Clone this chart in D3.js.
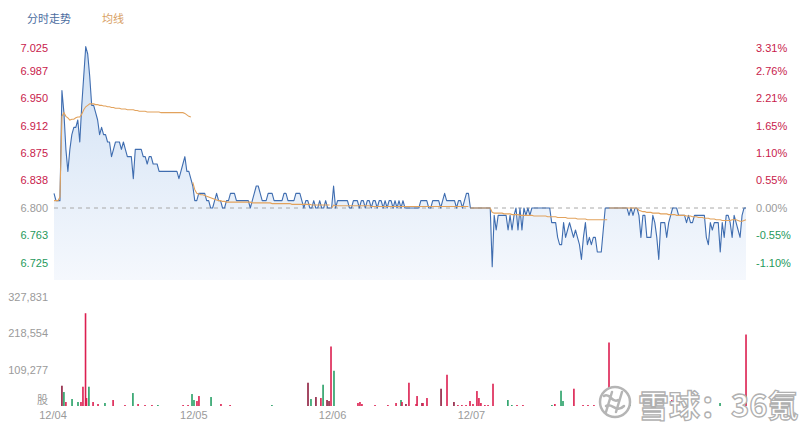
<!DOCTYPE html>
<html><head><meta charset="utf-8">
<script src="https://cdn.jsdelivr.net/npm/d3@7"></script>
<style>body{margin:0;background:#fff}svg{display:block}</style>
</head><body>
<svg id="c" width="800" height="424"></svg>
<script>
const dayLabels = ["12/04","12/05","12/06","12/07","12/08"];
const prevClose = 6.80;
const priceTicks = [7.025,6.987,6.950,6.912,6.875,6.838,6.800,6.763,6.725];
const pctTicks = ["3.31%","2.76%","2.21%","1.65%","1.10%","0.55%","0.00%","-0.55%","-1.10%"];
const volTicks = [327831,218554,109277];
const volUnit = "股";
const legendNames = ["分时走势","均线"];

const price1 = [6.82,6.81,6.81,6.81,6.96,6.93,6.88,6.85,6.88,6.90,
 6.91,6.91,6.92,6.89,6.94,6.98,7.02,7.01,6.98,6.94,
 6.94,6.93,6.92,6.90,6.91,6.90,6.90,6.89,6.89,6.87,
 6.88,6.89,6.89,6.89,6.88,6.89,6.88,6.87,6.87,6.87,
 6.84,6.88,6.88,6.88,6.88,6.87,6.87,6.86,6.87,6.87,
 6.86,6.86,6.86,6.85,6.85,6.85,6.85,6.85,6.85,6.85,
 6.85,6.85,6.85,6.84,6.85,6.86,6.87,6.85,6.85,6.84];
const avg1 = [6.81,6.81,6.81,6.815,6.925,6.93,6.925,6.923,6.92,6.921,
 6.921,6.923,6.924,6.924,6.928,6.934,6.938,6.940,6.942,6.942,
 6.942,6.941,6.941,6.940,6.940,6.939,6.939,6.938,6.938,6.937,
 6.937,6.936,6.936,6.936,6.935,6.935,6.935,6.934,6.934,6.934,
 6.934,6.933,6.933,6.932,6.932,6.932,6.932,6.931,6.931,6.931,
 6.931,6.931,6.931,6.931,6.930,6.930,6.930,6.930,6.930,6.930,
 6.930,6.930,6.930,6.930,6.930,6.930,6.929,6.927,6.925,6.924];
const price2 = [6.83,6.81,6.81,6.82,6.82,6.82,6.82,6.81,6.81,6.80,
 6.80,6.81,6.82,6.81,6.81,6.80,6.80,6.81,6.81,6.82,
 6.82,6.82,6.81,6.81,6.81,6.81,6.81,6.81,6.81,6.80,
 6.81,6.82,6.83,6.83,6.82,6.81,6.81,6.81,6.82,6.82,
 6.82,6.81,6.81,6.81,6.81,6.81,6.82,6.82,6.81,6.81,
 6.81,6.81,6.82,6.82,6.82,6.81,6.80,6.81,6.81,6.80,
 6.80,6.81,6.80,6.80,6.81,6.80,6.80,6.81,6.80,6.80];
const avg2 = [6.835,6.825,6.82,6.819,6.818,6.818,6.817,6.816,6.815,6.814,
 6.813,6.812,6.811,6.810,6.810,6.809,6.809,6.808,6.808,6.808,
 6.808,6.808,6.808,6.808,6.808,6.808,6.808,6.808,6.808,6.808,
 6.807,6.807,6.807,6.807,6.807,6.807,6.807,6.807,6.807,6.807,
 6.806,6.806,6.806,6.806,6.806,6.806,6.806,6.806,6.806,6.806,
 6.805,6.805,6.805,6.805,6.805,6.805,6.805,6.805,6.805,6.805,
 6.804,6.804,6.804,6.804,6.804,6.804,6.804,6.804,6.804,6.804];
const price3 = [6.80,6.83,6.80,6.81,6.81,6.81,6.81,6.81,6.81,6.80,
 6.80,6.81,6.81,6.81,6.80,6.81,6.81,6.80,6.81,6.81,
 6.80,6.81,6.81,6.80,6.81,6.81,6.80,6.81,6.80,6.81,
 6.81,6.80,6.81,6.80,6.81,6.80,6.81,6.80,6.80,6.80,
 6.80,6.80,6.80,6.80,6.80,6.81,6.81,6.81,6.81,6.80,
 6.80,6.81,6.81,6.81,6.81,6.80,6.81,6.82,6.81,6.81,
 6.81,6.81,6.81,6.80,6.81,6.81,6.80,6.81,6.82,6.82];
const avg3 = [6.80,6.804,6.803,6.803,6.803,6.803,6.803,6.803,6.803,6.803,
 6.803,6.803,6.803,6.803,6.803,6.803,6.803,6.803,6.803,6.803,
 6.802,6.802,6.802,6.802,6.802,6.802,6.802,6.802,6.802,6.802,
 6.802,6.802,6.802,6.802,6.802,6.802,6.802,6.802,6.802,6.802,
 6.802,6.802,6.802,6.802,6.802,6.802,6.802,6.802,6.802,6.802,
 6.802,6.802,6.802,6.802,6.802,6.802,6.802,6.802,6.802,6.802,
 6.802,6.802,6.802,6.802,6.802,6.802,6.802,6.802,6.802,6.802];
const price4 = [6.80,6.80,6.80,6.80,6.80,6.80,6.80,6.80,6.80,6.80,
 6.80,6.72,6.79,6.77,6.79,6.79,6.79,6.79,6.79,6.77,
 6.79,6.77,6.79,6.80,6.77,6.80,6.77,6.80,6.79,6.80,
 6.79,6.80,6.80,6.80,6.80,6.80,6.80,6.80,6.80,6.80,
 6.80,6.78,6.78,6.78,6.76,6.75,6.75,6.78,6.76,6.77,
 6.78,6.77,6.76,6.77,6.76,6.75,6.73,6.76,6.78,6.75,
 6.76,6.75,6.76,6.76,6.74,6.74,6.74,6.77,6.80,6.80];
const avg4 = [6.80,6.80,6.80,6.80,6.80,6.80,6.80,6.80,6.80,6.80,
 6.80,6.794,6.793,6.793,6.793,6.793,6.793,6.792,6.792,6.792,
 6.792,6.791,6.791,6.791,6.791,6.790,6.790,6.790,6.790,6.790,
 6.790,6.790,6.789,6.789,6.789,6.789,6.789,6.789,6.789,6.788,
 6.788,6.788,6.788,6.788,6.787,6.787,6.787,6.787,6.787,6.786,
 6.786,6.786,6.786,6.786,6.785,6.785,6.785,6.785,6.785,6.784,
 6.784,6.784,6.784,6.784,6.784,6.784,6.784,6.784,6.784,6.784];
const price5 = [6.80,6.80,6.80,6.80,6.80,6.80,6.80,6.80,6.80,6.80,
 6.79,6.80,6.79,6.80,6.80,6.79,6.76,6.79,6.79,6.76,
 6.76,6.76,6.79,6.78,6.76,6.73,6.78,6.78,6.78,6.76,
 6.78,6.79,6.80,6.80,6.80,6.79,6.79,6.79,6.79,6.78,
 6.79,6.78,6.78,6.79,6.79,6.79,6.79,6.79,6.79,6.76,
 6.75,6.78,6.77,6.78,6.78,6.78,6.74,6.78,6.76,6.79,
 6.79,6.78,6.76,6.79,6.78,6.77,6.76,6.79,6.80,6.80];
const avg5 = [6.80,6.80,6.80,6.80,6.80,6.80,6.80,6.80,6.80,6.80,
 6.80,6.80,6.80,6.80,6.80,6.797,6.796,6.795,6.795,6.794,
 6.794,6.794,6.793,6.793,6.793,6.793,6.792,6.792,6.792,6.792,
 6.791,6.791,6.791,6.791,6.790,6.790,6.790,6.790,6.790,6.789,
 6.789,6.789,6.788,6.788,6.788,6.787,6.787,6.787,6.786,6.786,
 6.786,6.785,6.785,6.785,6.784,6.784,6.784,6.783,6.783,6.783,
 6.783,6.783,6.784,6.784,6.784,6.783,6.782,6.782,6.783,6.784];

// volume: minute index (0..350 over five sessions), shares, direction (1 up, -1 down, 0 flat)
const volTime = [4.0,5.0,6.0,9.1,12.1,13.6,14.6,15.9,16.4,17.6,19.7,22.2,25.7,29.8,35.8,39.8,42.4,45.9,49.4,52.4,65.1,67.6,69.6,
 70.6,72.1,73.1,79.2,84.2,88.8,109.9,128.1,129.6,132.1,134.6,135.7,137.7,138.7,139.7,
 141.2,153.3,154.3,155.3,161.9,168.4,172.5,175.0,175.5,177.5,179.0,182.6,183.1,185.6,186.1,188.1,195.2,198.2,201.7,203.7,205.7,207.8,209.8,
 211.3,213.3,214.3,215.3,217.3,218.9,221.4,228.9,230.9,233.5,236.5,251.1,252.6,255.7,256.7,262.2,266.8,269.3,272.3,279.9,
 281.4,284.4,290.5,311.6,320.7,335.9,349.0];
const volValue = [61000,42000,12000,21000,12000,12000,58000,279000,24000,58000,12000,6000,9000,18000,3000,39000,6000,3000,3000,3000,3000,3000,36000,
 18000,15000,30000,27000,6000,3000,3000,70000,21000,27000,24000,64000,18000,15000,179000,
 106000,9000,12000,6000,3000,3000,9000,18000,12000,6000,70000,6000,30000,9000,9000,24000,52000,94000,12000,3000,3000,3000,15000,
 6000,45000,24000,9000,3000,3000,67000,18000,3000,3000,3000,3000,6000,46000,15000,52000,3000,3000,3000,191000,
 30000,9000,6000,18000,6000,9000,215000];
const volDir = [0,-1,1,-1,-1,1,1,1,1,-1,1,1,-1,1,1,-1,1,1,1,-1,1,1,-1,
 -1,1,1,-1,1,1,-1,0,-1,0,1,-1,0,0,1,
 -1,1,1,1,1,1,1,-1,1,0,1,1,1,0,1,1,0,1,0,1,1,1,1,
 1,1,1,1,1,1,1,-1,-1,1,1,-1,1,-1,-1,1,1,1,1,1,
 1,1,-1,1,1,-1,1];

const C = {line:'#3f6db0', avg:'#e2a25c', red:'#dc1f50', green:'#27a066', flat:'#8e1d3e',
  gray:'#9a9a9a', redText:'#c81a4b', greenText:'#25995c', legBlue:'#4b6d9f', legOrange:'#d8a064'};
const FONT = '"Liberation Sans", Arial, "Noto Sans CJK SC", sans-serif';
const CJK = '"Noto Sans CJK SC", sans-serif';

const svg = d3.select('#c');
const N = 70, DAYS = 5;
const x = d3.scaleLinear().domain([0, N*DAYS]).range([54, 748]);
const y = d3.scaleLinear().domain([6.725, 7.025]).range([263, 43]);
const yv = d3.scaleLinear().domain([0, 327831]).range([406, 297]);
const panelBottom = 280;

const prices = [].concat(price1, price2, price3, price4, price5);
const avgs = [avg1, avg2, avg3, avg4, avg5];

// gradient
const defs = svg.append('defs');
const g = defs.append('linearGradient').attr('id','fill').attr('gradientUnits','userSpaceOnUse')
  .attr('x1',0).attr('x2',0).attr('y1',y(7.025)).attr('y2',panelBottom);
g.append('stop').attr('offset','0%').attr('stop-color','#cfe0f4');
g.append('stop').attr('offset','100%').attr('stop-color','#f5f8fd');

// area
const area = d3.area().x((d,i)=>x(i)).y0(panelBottom).y1(d=>y(d));
svg.append('path').datum(prices).attr('d', area).attr('fill','url(#fill)');

// prev close dashed
svg.append('line').attr('x1', x(0)).attr('x2', x(N*DAYS)).attr('y1', y(prevClose)).attr('y2', y(prevClose))
  .attr('stroke','#a8a8a8').attr('stroke-width',1).attr('stroke-dasharray','4,4');

// price line
const line = d3.line().x((d,i)=>x(i)).y(d=>y(d));
svg.append('path').datum(prices).attr('d', line).attr('fill','none').attr('stroke',C.line).attr('stroke-width',1.1).attr('stroke-linejoin','round');

// avg lines per session
avgs.forEach((arr, di) => {
  const l = d3.line().x((d,i)=>x(di*N + i)).y(d=>y(d));
  svg.append('path').datum(arr).attr('d', l).attr('fill','none').attr('stroke',C.avg).attr('stroke-width',1.1);
});

// left price labels
svg.append('g').selectAll('text').data(priceTicks).join('text')
  .attr('x', 48).attr('y', d => Math.max(y(d), 48)).attr('text-anchor','end').attr('dominant-baseline','central')
  .attr('font-family', FONT).attr('font-size', 11)
  .attr('fill', d => d > prevClose + 1e-9 ? C.redText : (d < prevClose - 1e-9 ? C.greenText : C.gray))
  .text(d => d.toFixed(3));

// right pct labels
svg.append('g').selectAll('text').data(pctTicks).join('text')
  .attr('x', 756).attr('y', (d,i) => Math.max(y(priceTicks[i]), 48)).attr('text-anchor','start').attr('dominant-baseline','central')
  .attr('font-family', FONT).attr('font-size', 11)
  .attr('fill', d => d.startsWith('-') ? C.greenText : (d === '0.00%' ? C.gray : C.redText))
  .text(d => d);

// volume bars
const vols = volTime.map((t,i)=>({t, v:volValue[i], d:volDir[i]}));
svg.append('g').selectAll('rect').data(vols).join('rect')
  .attr('x', d => x(d.t) - 0.8).attr('width', 1.6)
  .attr('y', d => yv(d.v)).attr('height', d => yv(0) - yv(d.v))
  .attr('fill', d => d.d > 0 ? C.red : (d.d < 0 ? C.green : C.flat));

// volume labels
svg.append('g').selectAll('text').data(volTicks).join('text')
  .attr('x', 48).attr('y', d => yv(d)).attr('text-anchor','end').attr('dominant-baseline','central')
  .attr('font-family', FONT).attr('font-size', 11).attr('fill', C.gray)
  .text(d => d3.format(',')(d));
svg.append('text').attr('x', 48).attr('y', yv(0) - 7).attr('text-anchor','end').attr('dominant-baseline','central')
  .attr('font-family', CJK).attr('font-size', 11).attr('fill', C.gray).text(volUnit);

// x labels
svg.append('g').selectAll('text').data(dayLabels.slice(0,4)).join('text')
  .attr('x', (d,i) => x(i*N) + (i===0 ? -1 : 1)).attr('y', 415).attr('text-anchor','middle').attr('dominant-baseline','central')
  .attr('font-family', FONT).attr('font-size', 11).attr('fill', C.gray).text(d=>d);

// legend
svg.append('text').attr('x', 27).attr('y', 18).attr('dominant-baseline','central').attr('font-family', CJK)
  .attr('font-size', 11).attr('fill', C.legBlue).text(legendNames[0]);
svg.append('text').attr('x', 102).attr('y', 18).attr('dominant-baseline','central').attr('font-family', CJK)
  .attr('font-size', 11).attr('fill', C.legOrange).text(legendNames[1]);

// watermark
const wm = svg.append('g');
wm.append('circle').attr('cx', 615).attr('cy', 402).attr('r', 15).attr('fill','#fff').attr('stroke','#b5b5b5').attr('stroke-width',2.5);
wm.append('path').attr('d','M604,396 C610,392 612,404 618,400 M606,406 C612,402 616,414 624,406 M612,392 L606,412 M622,392 L616,412')
  .attr('fill','none').attr('stroke','#b5b5b5').attr('stroke-width',2.5).attr('stroke-linecap','round');
wm.append('text').attr('x', 638).attr('y', 403).attr('dominant-baseline','central').attr('font-family', CJK)
  .attr('font-size', 31).attr('font-weight', 'bold').attr('fill','#fff').attr('stroke','#b0b0b0').attr('stroke-width',1.3)
  .text('雪球：36氪');
</script>
</body></html>
